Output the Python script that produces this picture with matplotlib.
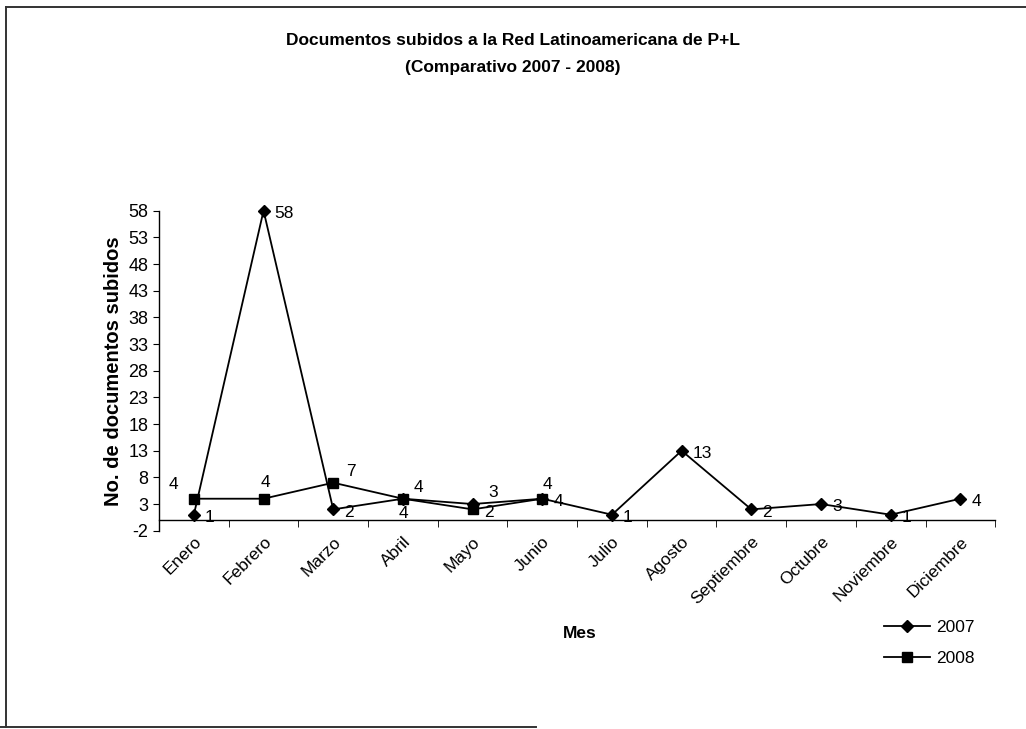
import matplotlib.pyplot as plt
from matplotlib.lines import Line2D

meses = ['Enero', 'Febrero', 'Marzo', 'Abril', 'Mayo', 'Junio', 'Julio',
         'Agosto', 'Septiembre', 'Octubre', 'Noviembre', 'Diciembre']
docs_2007 = [1, 58, 2, 4, 3, 4, 1, 13, 2, 3, 1, 4]
docs_2008 = [4, 4, 7, 4, 2, 4]
yticks = list(range(-2, 59, 5))

# label offsets in points (just styling)
off_2007 = [(8, -2)] * 12
off_2007[3] = (-3, -11)
off_2007[4] = (11, 8)
off_2008 = [(-18, 10), (-2, 12), (9, 8), (8, 8), (8, -2), (0, 10)]

plt.rcParams['font.family'] = ['Liberation Sans', 'DejaVu Sans']
plt.rcParams['axes.unicode_minus'] = False

fig = plt.figure(figsize=(10.26, 7.29), dpi=100)
ax = fig.add_axes([0.155, 0.272, 0.815, 0.439])

ax.spines['top'].set_visible(False)
ax.spines['right'].set_visible(False)
ax.spines['bottom'].set_position(('data', 0))
ax.spines['bottom'].set_linewidth(1.0)
ax.spines['left'].set_linewidth(1.0)

x07 = list(range(len(docs_2007)))
x08 = list(range(len(docs_2008)))
ax.plot(x07, docs_2007, color='black', lw=1.3, marker='D', ms=6.5, label='2007', clip_on=False)
ax.plot(x08, docs_2008, color='black', lw=1.3, marker='s', ms=7, label='2008', clip_on=False)

for i, v in enumerate(docs_2007):
    ax.annotate(str(v), (x07[i], v), xytext=off_2007[i], textcoords='offset points',
                fontsize=12.5, ha='left', va='center')
for i, v in enumerate(docs_2008):
    ax.annotate(str(v), (x08[i], v), xytext=off_2008[i], textcoords='offset points',
                fontsize=12.5, ha='left', va='center')

ax.set_xlim(-0.5, 11.5)
ax.set_ylim(-2, 58)
ax.set_yticks(yticks)
ax.set_xticks(x07)
ax.set_xticks([i + 0.5 for i in range(-1, 12)], minor=True)
ax.tick_params(axis='y', labelsize=13, length=4, direction='out')
ax.tick_params(axis='x', which='major', length=0, pad=10)
ax.tick_params(axis='x', which='minor', length=5, direction='out')
ax.set_xticklabels(meses, rotation=45, ha='right', rotation_mode='anchor', fontsize=12.5)

ax.set_ylabel('No. de documentos subidos', fontsize=14.5, fontweight='bold', labelpad=4)
fig.text(0.565, 1 - 633 / 729, 'Mes', fontsize=12.5, fontweight='bold', ha='center', va='center')

fig.text(0.5, 0.945, 'Documentos subidos a la Red Latinoamericana de P+L',
         fontsize=12.5, fontweight='bold', ha='center', va='center')
fig.text(0.5, 0.908, '(Comparativo 2007 - 2008)',
         fontsize=12.5, fontweight='bold', ha='center', va='center')

fig.legend(loc='upper left', bbox_to_anchor=(0.862, 1 - 620 / 729), frameon=False, fontsize=12.5,
           handlelength=2.6, handletextpad=0.4, labelspacing=0.9, borderaxespad=0.0,
           borderpad=0.0)

# frame of the scanned page
fig.add_artist(Line2D([0.006, 0.006], [0.003, 0.99], color='0.2', lw=1.4, transform=fig.transFigure))
fig.add_artist(Line2D([0.0, 0.522], [0.003, 0.003], color='0.2', lw=1.4, transform=fig.transFigure))
fig.add_artist(Line2D([0.006, 1.0], [0.99, 0.99], color='0.2', lw=1.4, transform=fig.transFigure))

fig.savefig('out.png', dpi=100)
